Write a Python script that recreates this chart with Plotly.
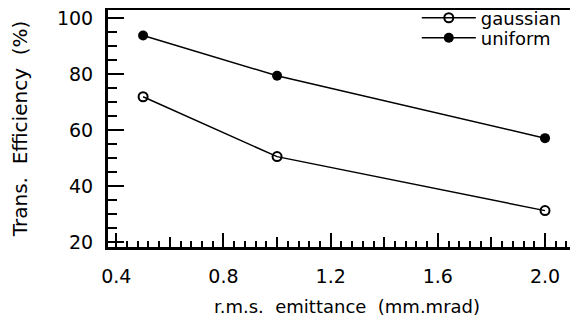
import plotly.graph_objects as go

emittance = [0.5, 1.0, 2.0]
gaussian = [71.9, 50.5, 31.2]
uniform = [93.8, 79.4, 57.1]
x_ticks = [0.4, 0.8, 1.2, 1.6, 2.0]
x_tick_labels = ["0.4", "0.8", "1.2", "1.6", "2.0"]
y_ticks = [20, 40, 60, 80, 100]
y_tick_labels = ["20", "40", "60", "80", "100"]
x_mid_ticks = [0.6, 1.0, 1.4, 1.8]

FONT = "DejaVu Sans, Arial, sans-serif"
X_RANGE = [0.369, 2.153]

fig = go.Figure()
fig.add_trace(go.Scatter(
    x=emittance, y=gaussian, name="gaussian", mode="lines+markers",
    line=dict(color="black", width=1.5),
    marker=dict(symbol="circle-open", size=9, color="black", line=dict(width=2)),
    legend="legend",
))
fig.add_trace(go.Scatter(
    x=emittance, y=uniform, name="uniform", mode="lines+markers",
    line=dict(color="black", width=1.5),
    marker=dict(symbol="circle", size=10, color="black"),
    legend="legend2",
))
fig.add_trace(go.Scatter(x=[None], y=[None], xaxis="x2", showlegend=False, hoverinfo="skip"))

legend_common = dict(xanchor="left", yanchor="middle", bgcolor="rgba(0,0,0,0)",
                     font=dict(size=18, family=FONT, color="black"), itemwidth=54)

fig.update_layout(
    width=578, height=320,
    margin=dict(l=100, r=0, t=2, b=81, autoexpand=False),
    paper_bgcolor="white", plot_bgcolor="white",
    font=dict(family=FONT, color="black", size=18),
    showlegend=True,
    legend=dict(x=0.646, y=0.966, **legend_common),
    legend2=dict(x=0.646, y=0.882, **legend_common),
    xaxis=dict(
        range=X_RANGE, tickvals=x_ticks, ticktext=x_tick_labels,
        ticks="inside", ticklen=14, tickwidth=2, tickcolor="black",
        minor=dict(dtick=0.04, tick0=0.4, ticks="inside", ticklen=6, tickwidth=1.5, tickcolor="black"),
        showline=True, linewidth=2.5, linecolor="black", mirror=True,
        showgrid=False, zeroline=False, automargin=False,
        tickfont=dict(size=19), ticklabelstandoff=10, ticklabeloverflow="allow",
        title=dict(text="r.m.s.  emittance  (mm.mrad)", font=dict(size=18), standoff=15),
    ),
    xaxis2=dict(
        range=X_RANGE, overlaying="x", side="bottom", anchor="y",
        tickvals=x_mid_ticks, showticklabels=False,
        ticks="inside", ticklen=10, tickwidth=1.5, tickcolor="black",
        showgrid=False, zeroline=False, showline=False, automargin=False,
    ),
    yaxis=dict(
        range=[18.2, 102.9], tickvals=y_ticks, ticktext=y_tick_labels,
        ticks="inside", ticklen=16, tickwidth=2, tickcolor="black",
        minor=dict(dtick=5, tick0=0, ticks="inside", ticklen=9, tickwidth=2, tickcolor="black"),
        showline=True, linewidth=3, linecolor="black",
        showgrid=False, zeroline=False, automargin=False,
        tickfont=dict(size=19), ticklabelstandoff=8, ticklabeloverflow="allow",
        title=dict(text="Trans.  Efficiency  (%)", font=dict(size=20), standoff=24),
    ),
)

fig.write_html("out.html")
